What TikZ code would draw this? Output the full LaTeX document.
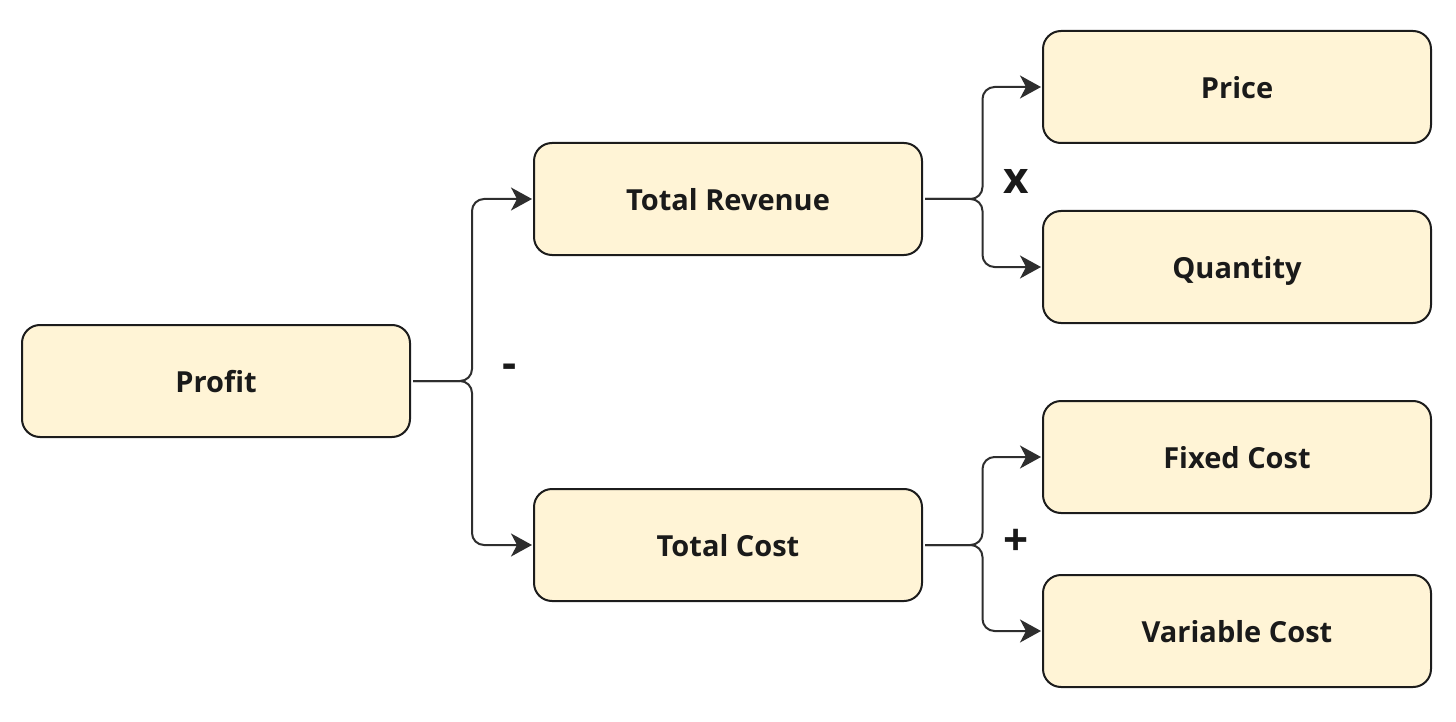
\documentclass[tikz,border=0pt]{standalone}
\usepackage{fontspec}
\setmainfont{Open Sans}
\usetikzlibrary{arrows.meta,calc}
\definecolor{boxfill}{HTML}{FFF4D6}
\definecolor{boxline}{HTML}{1C1C1C}
\definecolor{conncol}{HTML}{2E2E2E}
\definecolor{txtcol}{HTML}{1A1A1A}
\tikzset{
  box/.style={draw=boxline, line width=2pt, fill=boxfill, rounded corners=18pt,
    minimum width=388pt, minimum height=112pt, inner sep=0pt,
    font=\fontsize{29}{33}\selectfont\bfseries, text=txtcol,
    text height=25pt, text depth=2pt},
  conn/.style={draw=conncol, line width=2pt, rounded corners=12pt,
    -{Stealth[length=21pt,width=23pt,inset=6pt]}},
  oplabel/.style={font=\fontsize{44}{48}\selectfont\bfseries, text=txtcol, inner sep=0pt}
}
\begin{document}
\begin{tikzpicture}[x=1pt,y=-1pt]
\useasboundingbox (0,0) rectangle (1456,722);
\node[box] (profit) at (216,381) {Profit};
\node[box] (rev) at (728,199) {Total Revenue};
\node[box] (cost) at (728,545) {Total Cost};
\node[box] (price) at (1237,87) {Price};
\node[box] (qty) at (1237,267) {Quantity};
\node[box] (fixed) at (1237,457) {Fixed Cost};
\node[box] (var) at (1237,631) {Variable Cost};

\coordinate (j1) at ($(profit.east)!0.5!(rev.west |- profit.east)$);
\coordinate (j2) at ($(rev.east)!0.5!(price.west |- rev.east)$);
\coordinate (j3) at ($(cost.east)!0.5!(fixed.west |- cost.east)$);

\draw[conn] ([xshift=2pt]profit.east) -- (j1) |- ([xshift=-1pt]rev.west);
\draw[conn] ([xshift=2pt]profit.east) -- (j1) |- ([xshift=-1pt]cost.west);
\draw[conn] ([xshift=2pt]rev.east) -- (j2) |- ([xshift=-1pt]price.west);
\draw[conn] ([xshift=2pt]rev.east) -- (j2) |- ([xshift=-1pt]qty.west);
\draw[conn] ([xshift=2pt]cost.east) -- (j3) |- ([xshift=-1pt]fixed.west);
\draw[conn] ([xshift=2pt]cost.east) -- (j3) |- ([xshift=-1pt]var.west);

\node[oplabel] (minus) at (510,371) {-};
\node[oplabel] (times) at (1016,181) {x};
\node[oplabel] (plus) at (1016,542) {+};
\end{tikzpicture}
\end{document}
